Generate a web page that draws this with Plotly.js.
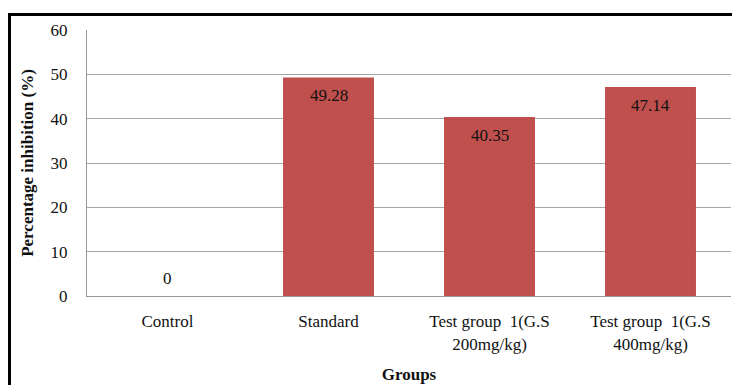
<!DOCTYPE html>
<html>
<head>
<meta charset="utf-8">
<script src="https://cdn.plot.ly/plotly-3.0.1.min.js"></script>
<style>
  html, body { margin: 0; padding: 0; background: #fff; }
  #wrap { position: relative; width: 732px; height: 385px; overflow: hidden; }
  #chart { position: absolute; left: 0; top: 0; width: 732px; height: 385px; }
  #frame { position: absolute; left: 8px; top: 13px; width: 760px; height: 400px;
           border-left: 3px solid #000; border-top: 3px solid #000; pointer-events: none; }
</style>
</head>
<body>
<div id="wrap">
  <div id="chart"></div>
  <div id="frame"></div>
</div>
<script>
const categories = ["Control", "Standard", "Test group  1(G.S<br>200mg/kg)", "Test group  1(G.S<br>400mg/kg)"];
const inhibition = [0, 49.28, 40.35, 47.14];
const valueLabels = ["0", "49.28", "40.35", "47.14"];
const yTicks = [0, 10, 20, 30, 40, 50, 60];

const serif = "'Liberation Serif', 'Times New Roman', Times, serif";
const txt = "#111";

const trace = {
  type: "bar",
  x: categories,
  y: inhibition,
  marker: { color: "#C0504D", line: { width: 0 } },
  hoverinfo: "x+y"
};

const annotations = categories.map((c, i) => ({
  x: c, y: inhibition[i], xref: "x", yref: "y",
  text: valueLabels[i], showarrow: false,
  yshift: inhibition[i] === 0 ? 18 : -18,
  font: { family: serif, size: 17, color: txt }
}));

const layout = {
  width: 732, height: 385,
  margin: { l: 87, r: 1, t: 30, b: 89 },
  paper_bgcolor: "#fff", plot_bgcolor: "#fff",
  showlegend: false,
  bargap: 0.435,
  font: { family: serif },
  xaxis: {
    type: "category",
    tickfont: { family: serif, size: 17, color: txt },
    showline: true, linecolor: "#999", linewidth: 1,
    ticks: "", ticklabelstandoff: 10,
    title: { text: "Groups", font: { family: serif, size: 17, color: txt, weight: "bold" }, standoff: 15 },
    automargin: true
  },
  yaxis: {
    range: [0, 60],
    tickvals: yTicks,
    ticktext: yTicks.map(String),
    tickfont: { family: serif, size: 17, color: txt },
    showgrid: true, gridcolor: "#a6a6a6", gridwidth: 1,
    showline: true, linecolor: "#999", linewidth: 1,
    zeroline: false,
    ticks: "", ticklabelstandoff: 15,
    title: { text: "Percentage inhibition (%)", font: { family: serif, size: 17, color: txt, weight: "bold" }, standoff: 12 },
    automargin: true
  },
  annotations: annotations
};

Plotly.newPlot("chart", [trace], layout, { displayModeBar: false, staticPlot: true });
</script>
</body>
</html>
